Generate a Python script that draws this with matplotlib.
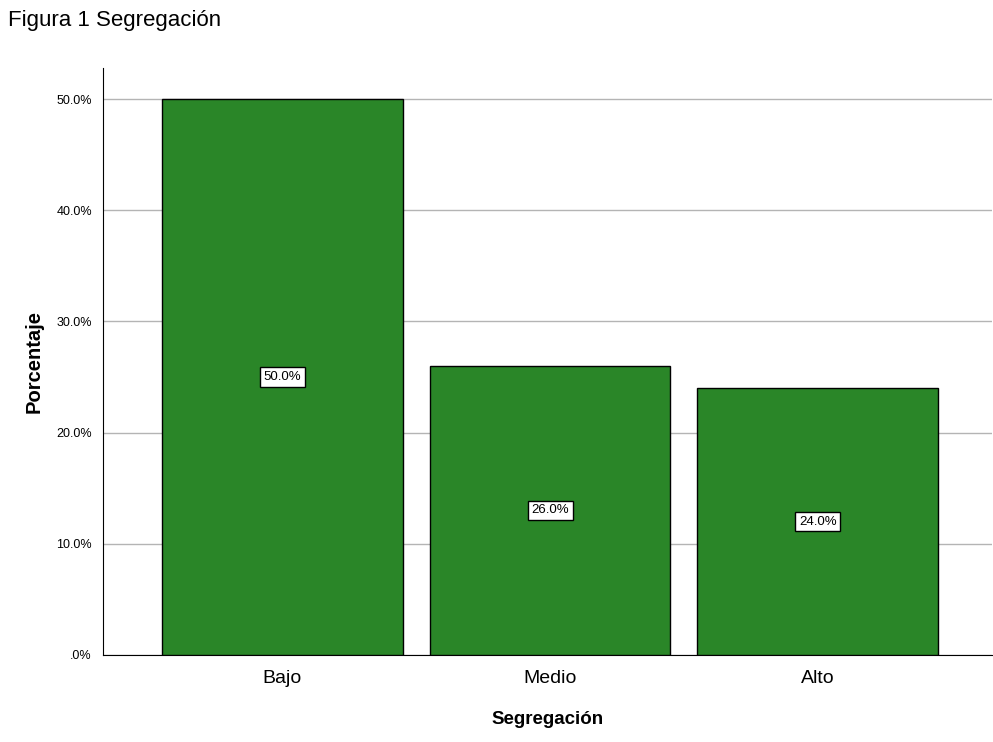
import matplotlib.pyplot as plt
import numpy as np

plt.rcParams["font.family"] = ["Liberation Sans", "DejaVu Sans"]

categorias = ["Bajo", "Medio", "Alto"]
porcentajes = [50.0, 26.0, 24.0]
yticks = [0, 10, 20, 30, 40, 50]
ytick_labels = [".0%", "10.0%", "20.0%", "30.0%", "40.0%", "50.0%"]

fig = plt.figure(figsize=(9.93, 7.42), dpi=100)
ax = fig.add_axes([0.1037, 0.1173, 0.895, 0.7911])

x = np.arange(len(categorias))
ax.bar(x, porcentajes, width=0.9, color="#2a8628", edgecolor="black",
       linewidth=1, zorder=3)

for xi, v in zip(x, porcentajes):
    ax.text(xi, v / 2, f"{v:.1f}%", ha="center", va="center", fontsize=9.5,
            zorder=4,
            bbox=dict(boxstyle="square,pad=0.28", fc="white", ec="black", lw=1))

ax.set_xlim(-0.67, 2.65)
ax.set_ylim(0, 52.8)
ax.set_xticks(x)
ax.set_xticklabels(categorias, fontsize=14)
ax.set_yticks(yticks)
ax.set_yticklabels(ytick_labels, fontsize=9)
ax.tick_params(axis="x", length=0, pad=11)
ax.tick_params(axis="y", length=0, pad=8)
ax.yaxis.grid(True, color="#b4b4b4", linewidth=1, zorder=0)
ax.spines["top"].set_visible(False)
ax.spines["right"].set_visible(False)

ax.set_xlabel("Segregación", fontsize=13.5, fontweight="bold", labelpad=17)
ax.set_ylabel("Porcentaje", fontsize=14.5, fontweight="bold", labelpad=9)

fig.text(0.008, 0.973, "Figura 1 Segregación", fontsize=16, va="center",
         ha="left")

plt.savefig("out.png", dpi=100)
